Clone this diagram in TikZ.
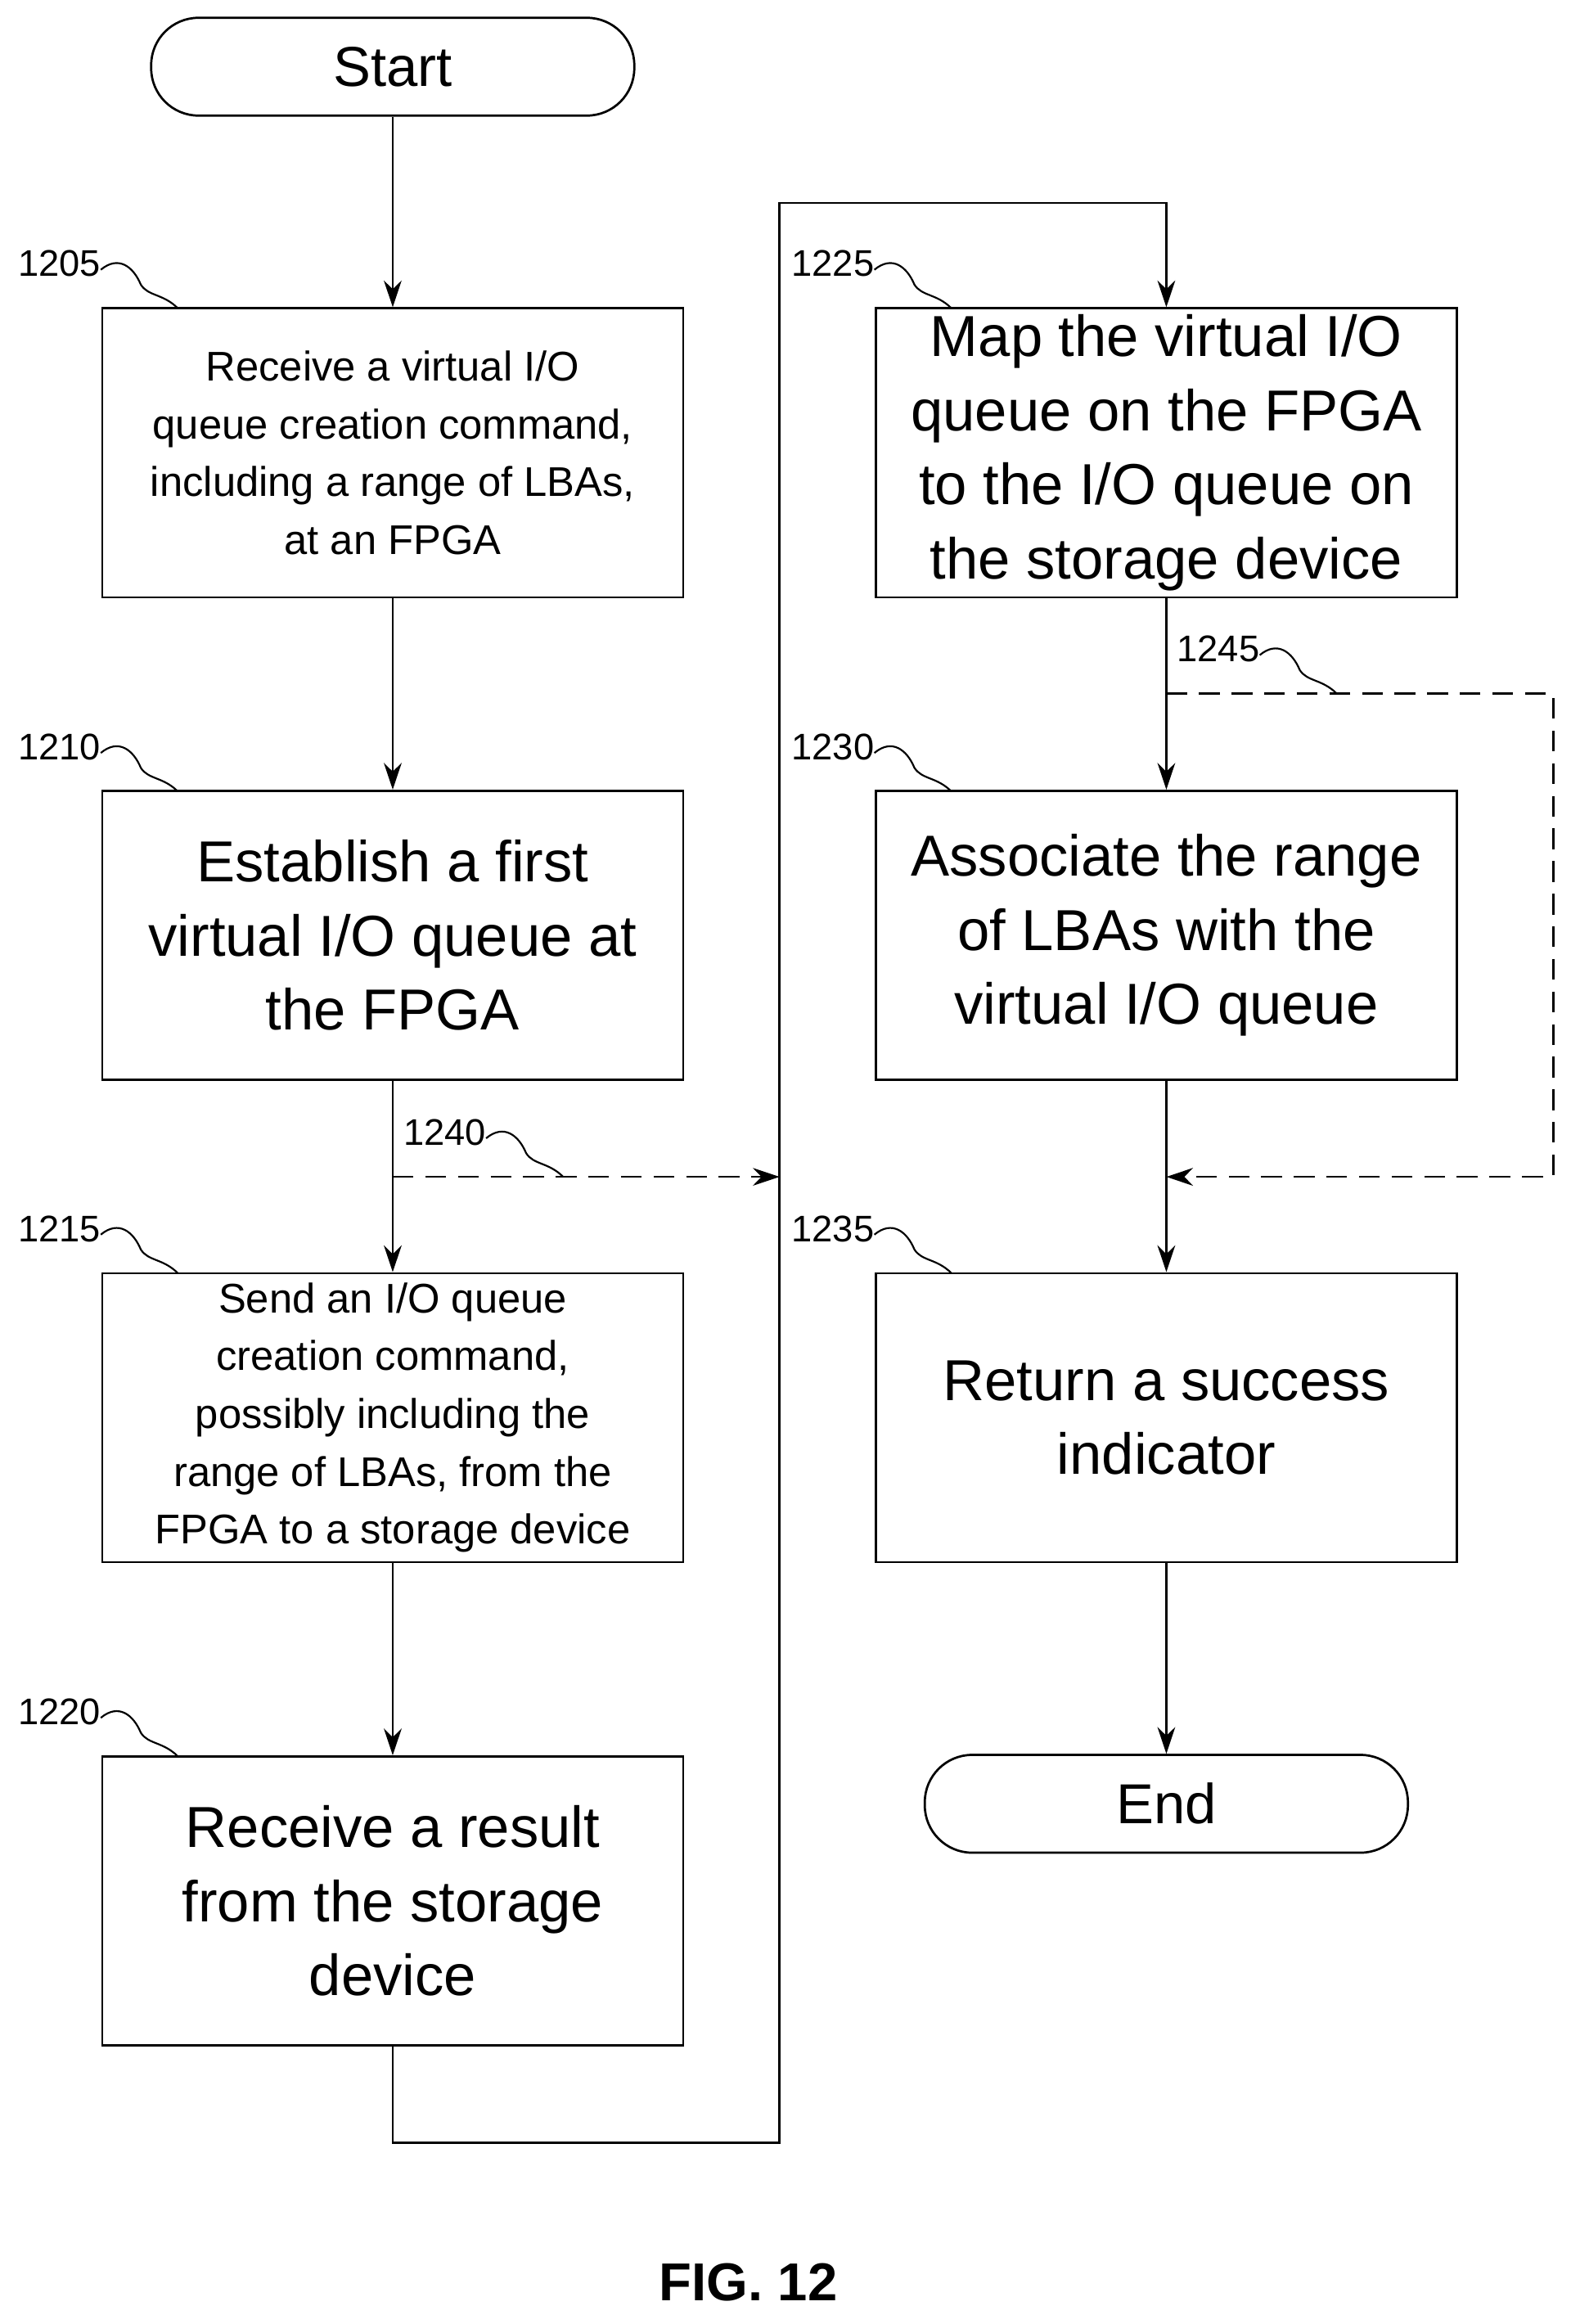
\documentclass[tikz,border=0pt]{standalone}
\usepackage{fontspec}
\setmainfont{Liberation Sans}
\usetikzlibrary{arrows.meta}
\tikzset{every picture/.style={line width=0.75pt}}
\tikzset{
  procbox/.style={draw,minimum width=196pt,minimum height=97.5pt,align=center,inner sep=0pt},
  term/.style={draw,rounded corners=16pt,minimum width=163pt,minimum height=33pt,font=\fontsize{19}{22}\selectfont},
  big/.style={font=\fontsize{19.5}{25}\selectfont},
  small/.style={font=\fontsize{14}{19.5}\selectfont},
  flow/.style={-{Stealth[length=9pt,width=6pt]}},
  dflow/.style={flow,dash pattern=on 7pt off 4pt},
  refno/.style={font=\fontsize{12.5}{14}\selectfont,inner sep=0pt}
}
% reference numeral with its wavy leader
\newcommand{\refmark}[3]{%
  \node[refno] at (#1,#2) {#3};
  \draw[line width=0.6pt] (#1+28,#2+4) .. controls (#1+40,#2-6) and (#1+50,#2+2) .. (#1+55,#2+14)
    .. controls (#1+60,#2+22) and (#1+70,#2+20) .. (#1+80,#2+30);}

\begin{document}
\begin{tikzpicture}[x=0.5pt,y=0.5pt,yscale=-1,xscale=1]
\useasboundingbox (0,0) rectangle (1060,1568);

%Terminals
\node[term] (start) at (265,45) {Start};
\node[term] (end) at (787,1217) {End};

%Left column
\node[procbox,small] (s1205) at (265,305.5) {Receive a virtual I/O\\queue creation command,\\including a range of LBAs,\\at an FPGA};
\node[procbox,big] (s1210) at (265,631) {Establish a first\\virtual I/O queue at\\the FPGA};
\node[procbox,small] (s1215) at (265,956.5) {Send an I/O queue\\creation command,\\possibly including the\\range of LBAs, from the\\FPGA to a storage device};
\node[procbox,big] (s1220) at (265,1282.5) {Receive a result\\from the storage\\device};

%Right column
\node[procbox,big] (s1225) at (787,305.5) {Map the virtual I/O\\queue on the FPGA\\to the I/O queue on\\the storage device};
\node[procbox,big] (s1230) at (787,631) {Associate the range\\of LBAs with the\\virtual I/O queue};
\node[procbox,big] (s1235) at (787,956.5) {Return a success\\indicator};

%Connectors
\draw[flow] (start) -- (s1205);
\draw[flow] (s1205) -- (s1210);
\draw[flow] (s1210) -- (s1215);
\draw[flow] (s1215) -- (s1220);
\draw[flow] (s1220.south) -- ++(0,65) -| (526,137) -| (s1225.north);
\draw[flow] (s1225) -- (s1230);
\draw[flow] (s1230) -- (s1235);
\draw[flow] (s1235) -- (end);

%Dashed bypasses
\coordinate (b1240) at (265,794);
\coordinate (b1245) at (787,468);
\draw[dflow] (b1240) -- (526,794);
\draw[dflow] (b1245) -- (1048,468) -- (1048,794) -- (787,794);

%Reference numerals
\refmark{40}{178}{1205}
\refmark{40}{504}{1210}
\refmark{40}{829}{1215}
\refmark{40}{1155}{1220}
\refmark{562}{178}{1225}
\refmark{562}{504}{1230}
\refmark{562}{829}{1235}
\refmark{300}{764}{1240}
\refmark{822}{438}{1245}

\node[font=\bfseries\fontsize{18}{20}\selectfont] (fig) at (505,1540) {FIG. 12};
\end{tikzpicture}
\end{document}
